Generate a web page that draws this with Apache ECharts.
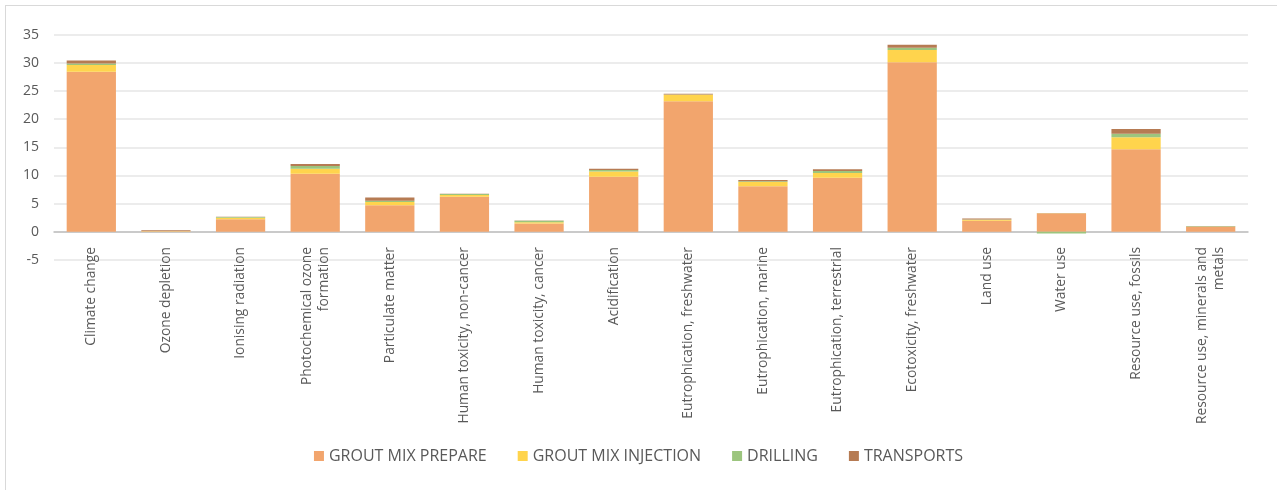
<!DOCTYPE html>
<html>
<head>
<meta charset="utf-8">
<script src="https://cdn.jsdelivr.net/npm/echarts@6/dist/echarts.min.js"></script>
<style>
  html, body { margin: 0; padding: 0; background: #fff; }
  #frame { position: absolute; left: 5px; top: 5px; width: 1290px; height: 500px; border: 1px solid #d9d9d9; box-sizing: border-box; }
  #chart { position: absolute; left: 0; top: 0; width: 1277px; height: 490px; }
</style>
</head>
<body>
<div id="frame"></div>
<div id="chart"></div>
<script>
const categories = [
  'Climate change', 'Ozone depletion', 'Ionising radiation', 'Photochemical ozone\nformation',
  'Particulate matter', 'Human toxicity, non-cancer', 'Human toxicity, cancer', 'Acidification',
  'Eutrophication, freshwater', 'Eutrophication, marine', 'Eutrophication, terrestrial',
  'Ecotoxicity, freshwater', 'Land use', 'Water use', 'Resource use, fossils',
  'Resource use, minerals and\nmetals'
];
const groutPrepare   = [28.4, 0.12, 2.25, 10.3, 4.7, 6.25, 1.5, 9.8, 23.2, 8.1, 9.6, 30.1, 1.95, 3.25, 14.65, 0.85];
const groutInjection = [1.2, 0.02, 0.25, 0.9, 0.6, 0.3, 0.2, 0.9, 1.15, 0.75, 0.85, 2.2, 0.2, 0.05, 2.15, 0.05];
const drilling       = [0.3, 0.03, 0.15, 0.5, 0.2, 0.15, 0.25, 0.3, 0.05, 0.15, 0.35, 0.4, 0.05, -0.3, 0.6, 0.1];
const transports     = [0.5, 0.1, 0.05, 0.35, 0.6, 0.05, 0.05, 0.2, 0.1, 0.2, 0.3, 0.5, 0.15, 0.05, 0.85, 0.05];
const yTicks = { min: -5, max: 35, step: 5 };

const chart = echarts.init(document.getElementById('chart'));

function barSeries(name, data, color) {
  return {
    name: name,
    type: 'bar',
    stack: 'total',
    data: data,
    barCategoryGap: '34%',
    itemStyle: { color: color }
  };
}

const option = {
  animation: false,
  backgroundColor: 'transparent',
  textStyle: { fontFamily: 'Open Sans' },
  grid: { left: 54, right: 29, top: 34.7, bottom: 230, containLabel: false },
  legend: {
    bottom: 21,
    left: 'center',
    itemWidth: 10,
    itemHeight: 10,
    itemGap: 31,
    icon: 'rect',
    textStyle: { color: '#595959', fontSize: 16, fontFamily: 'Open Sans' },
    data: ['GROUT MIX PREPARE', 'GROUT MIX INJECTION', 'DRILLING', 'TRANSPORTS']
  },
  xAxis: {
    type: 'category',
    data: categories,
    axisLine: { onZero: true, lineStyle: { color: '#bfbfbf', width: 1.5 } },
    axisTick: { show: false },
    axisLabel: {
      rotate: 90,
      interval: 0,
      margin: -13,
      color: '#595959',
      fontSize: 13.8,
      lineHeight: 17,
      fontFamily: 'Open Sans'
    }
  },
  yAxis: {
    type: 'value',
    min: yTicks.min,
    max: yTicks.max,
    interval: yTicks.step,
    axisLine: { show: false },
    axisTick: { show: false },
    splitLine: { lineStyle: { color: '#e6e6e6', width: 1.5 } },
    axisLabel: { color: '#595959', fontSize: 14, margin: 15, fontFamily: 'Open Sans' }
  },
  series: [
    barSeries('GROUT MIX PREPARE', groutPrepare, '#f2a56d'),
    barSeries('GROUT MIX INJECTION', groutInjection, '#ffd44d'),
    barSeries('DRILLING', drilling, '#9cc57e'),
    barSeries('TRANSPORTS', transports, '#b67b53')
  ]
};

chart.setOption(option);
</script>
</body>
</html>
